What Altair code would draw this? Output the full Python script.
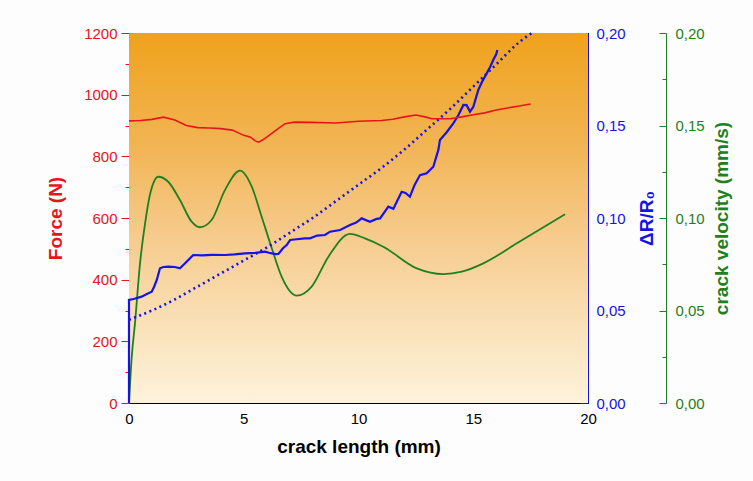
import altair as alt
import pandas as pd

# ---------------- data ----------------
force_x = [0, 0.5, 1.0, 1.5, 2.0, 2.5, 3.0, 3.5, 4.0, 4.5, 5.0, 5.3, 5.5, 5.65, 5.8, 6.0,
           6.5, 6.8, 7.2, 8.0, 9.0, 10.0, 11.0, 11.5, 12.0, 12.5, 12.9, 13.2, 14.0, 14.5,
           15.0, 15.5, 16.0, 16.5, 17.0, 17.5]
force_y = [915, 916, 920, 927, 918, 900, 893, 892, 890, 885, 868, 862, 850, 846, 852, 862,
           890, 906, 911, 910, 908, 914, 916, 920, 928, 934, 928, 922, 922, 928,
           935, 941, 950, 957, 963, 970]

dr_x = [0, 0, 0.2, 0.55, 0.8, 0.99, 1.1, 1.21, 1.35, 1.5, 1.71, 2.0, 2.22, 2.4, 2.51, 2.8,
        3.2, 3.6, 4.18, 4.6, 5.05, 5.5, 5.93, 6.1, 6.22, 6.4, 6.51, 6.7, 6.87, 7.02, 7.3,
        7.67, 7.89, 8.2, 8.54, 8.76, 9.2, 9.63, 9.9, 10.14, 10.5, 10.79, 10.94, 11.3,
        11.52, 11.88, 12.05, 12.24, 12.45, 12.68, 12.97, 13.26, 13.48, 13.55, 13.85,
        14.13, 14.35, 14.57, 14.71, 14.86, 15.0, 15.22, 15.4, 15.59, 15.75, 15.87, 16.0, 16.05]
dr_y = [0, 0.0557, 0.0562, 0.0575, 0.059, 0.0602, 0.063, 0.0665, 0.0728, 0.0735, 0.0737,
        0.0735, 0.0728, 0.075, 0.0764, 0.0800, 0.0798, 0.0801, 0.0800, 0.0803, 0.0809,
        0.0812, 0.0818, 0.0812, 0.0809, 0.0805, 0.0806, 0.0835, 0.0854, 0.0881, 0.0885,
        0.089, 0.089, 0.0905, 0.0908, 0.0926, 0.0935, 0.0962, 0.0975, 0.0998, 0.098,
        0.0995, 0.0998, 0.1061, 0.105, 0.1142, 0.1135, 0.1115, 0.118, 0.1232, 0.1242,
        0.1277, 0.1368, 0.1422, 0.1465, 0.1512, 0.1555, 0.1611, 0.161, 0.1575, 0.1600,
        0.1692, 0.174, 0.1782, 0.182, 0.1854, 0.1885, 0.1908]

fit_x = [0, 1, 2, 3, 4, 5, 6, 7, 8, 9, 10, 11, 12, 13, 14, 15, 16, 17, 17.55]
fit_y = [0.045, 0.050, 0.056, 0.063, 0.070, 0.077, 0.084, 0.092, 0.100, 0.109, 0.118,
         0.127, 0.137, 0.148, 0.159, 0.171, 0.183, 0.195, 0.200]

vel_x = [0, 0.12, 0.26, 0.48, 0.7, 0.92, 1.28, 1.71, 2.22, 2.73, 3.09, 3.6, 4.18, 4.84,
         5.35, 5.78, 6.2, 6.65, 7.31, 7.96, 8.69, 9.63, 10.28, 11.08, 12.54, 13.7, 14.5,
         15.44, 16.9, 19.0]
vel_y = [0, 0.025, 0.043, 0.0755, 0.097, 0.113, 0.1223, 0.1196, 0.1097, 0.098, 0.095,
         0.0989, 0.1151, 0.1256, 0.1169, 0.1007, 0.0845, 0.0683, 0.058, 0.0629, 0.0791,
         0.0914, 0.089, 0.0845, 0.0728, 0.0697, 0.071, 0.0755, 0.0863, 0.102]

x_ticks = [0, 2.5, 5, 7.5, 10, 12.5, 15, 17.5, 20]
force_ticks = [0, 100, 200, 300, 400, 500, 600, 700, 800, 900, 1000, 1100, 1200]
ratio_ticks = [0, 0.025, 0.05, 0.075, 0.1, 0.125, 0.15, 0.175, 0.2]

# ---------------- styling ----------------
RED = "#E8141B"
BLUE = "#1414E6"
GREEN = "#1E8020"
FONT = "Liberation Sans"
W, H = 459, 370

force_df = pd.DataFrame({"x": force_x, "y": force_y})
dr_df = pd.DataFrame({"x": dr_x, "y": dr_y})
fit_df = pd.DataFrame({"x": fit_x, "y": fit_y})
vel_df = pd.DataFrame({"x": vel_x, "y": vel_y})

xscale = alt.Scale(domain=[0, 20], nice=False, zero=False)
fscale = alt.Scale(domain=[0, 1200], nice=False)
rscale = alt.Scale(domain=[0, 0.2], nice=False)

major_r = "round(datum.value*1000) % 50 === 0"
ratio_label = f"{major_r} ? replace(format(datum.value, '.2f'), '.', ',') : ''"

bg = alt.Chart(alt.Data(values=[{}])).mark_rect(
    color=alt.LinearGradient(
        gradient="linear",
        stops=[
            alt.GradientStop(color="#EFA21C", offset=0),
            alt.GradientStop(color="#F2B453", offset=0.3),
            alt.GradientStop(color="#F6CB8D", offset=0.55),
            alt.GradientStop(color="#FAE2BA", offset=0.8),
            alt.GradientStop(color="#FDF3DC", offset=1),
        ],
        x1=0, x2=0, y1=0, y2=1,
    )
).encode(x=alt.value(0), x2=alt.value("width"), y=alt.value(0), y2=alt.value("height"))

force_line = alt.Chart(force_df).mark_line(color=RED, strokeWidth=1.6).encode(
    x=alt.X("x:Q", scale=xscale, axis=alt.Axis(
        orient="bottom", values=x_ticks, title="crack length (mm)",
        labelExpr="datum.value % 5 === 0 ? datum.label : ''",
        tickSize={"expr": "datum.value % 5 === 0 ? -8 : -4"},
        labelPadding=16, labelFlush=False, grid=False,
        domainColor="black", tickColor="black", labelColor="black", titleColor="black",
        labelFontSize=15, titleFontSize=19, titleFontWeight="bold", titlePadding=11,
        labelFont=FONT, titleFont=FONT)),
    y=alt.Y("y:Q", scale=fscale, axis=alt.Axis(
        orient="left", values=force_ticks, title="Force (N)",
        labelExpr="datum.value % 200 === 0 ? datum.label : ''",
        tickSize={"expr": "datum.value % 200 === 0 ? 8 : 4"},
        labelPadding=4, grid=False, format="d",
        domainColor=RED, tickColor=RED, labelColor=RED, titleColor=RED,
        labelFontSize=15, titleFontSize=19, titleFontWeight="bold", titlePadding=18,
        labelFont=FONT, titleFont=FONT)),
)

dr_line = alt.Chart(dr_df).mark_line(color=BLUE, strokeWidth=2.2).encode(
    x=alt.X("x:Q", scale=xscale, axis=alt.Axis(
        orient="top", values=x_ticks, labels=False, title=None, grid=False,
        tickSize={"expr": "-6"}, domainColor="black", tickColor="black")),
    y=alt.Y("y:Q", scale=rscale, axis=alt.Axis(
        orient="right", values=ratio_ticks, title="ΔR/R₀", labelExpr=ratio_label,
        tickSize={"expr": f"{major_r} ? -8 : -4"},
        labelPadding=16, grid=False, titleAngle=270,
        domainColor=BLUE, tickColor=BLUE, labelColor=BLUE, titleColor=BLUE,
        labelFontSize=15, titleFontSize=19, titleFontWeight="bold", titlePadding=31,
        labelFont=FONT, titleFont=FONT)),
)

fit_line = alt.Chart(fit_df).mark_line(
    color=BLUE, strokeWidth=2.6, strokeDash=[2, 3.5], interpolate="monotone"
).encode(
    x=alt.X("x:Q", scale=xscale, axis=None),
    y=alt.Y("y:Q", scale=rscale, axis=None),
)

vel_line = alt.Chart(vel_df).mark_line(color=GREEN, strokeWidth=1.8, interpolate="monotone").encode(
    x=alt.X("x:Q", scale=xscale, axis=None),
    y=alt.Y("y:Q", scale=rscale, axis=alt.Axis(
        orient="right", offset=78, values=ratio_ticks, title="crack velocity (mm/s)",
        labelExpr=ratio_label,
        tickSize={"expr": f"{major_r} ? -7 : -4"},
        labelPadding=16, grid=False, titleAngle=270,
        domainColor=GREEN, tickColor=GREEN, labelColor=GREEN, titleColor=GREEN,
        labelFontSize=15, titleFontSize=19, titleFontWeight="bold", titlePadding=27,
        labelFont=FONT, titleFont=FONT)),
)

chart = alt.layer(bg, vel_line, fit_line, dr_line, force_line).resolve_scale(
    y="independent"
).resolve_axis(x="independent", y="independent").properties(
    width=W, height=H,
    autosize=alt.AutoSizeParams(type="none"),
    padding={"left": 129, "top": 33, "right": 753 - 129 - W, "bottom": 481 - 33 - H},
    background="#FDFDFD",
).configure_view(stroke="black", strokeWidth=1)

chart.save("out.html", embed_options={"renderer": "svg", "actions": False})
